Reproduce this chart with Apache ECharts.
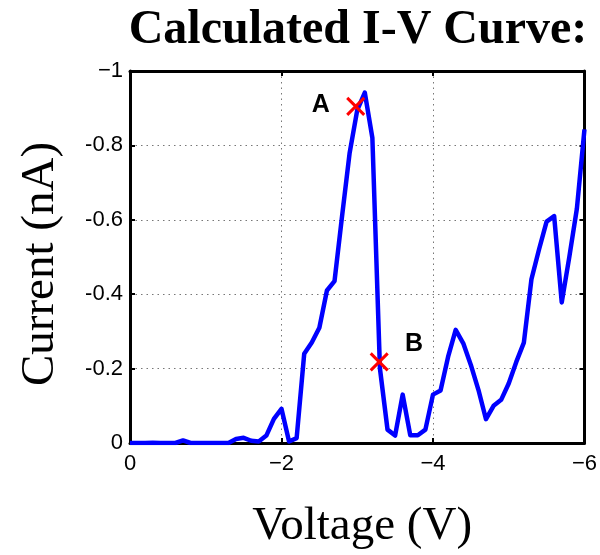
<!DOCTYPE html>
<html>
<head>
<meta charset="utf-8">
<script src="https://cdn.jsdelivr.net/npm/echarts@6/dist/echarts.min.js"></script>
<style>
  html, body { margin: 0; padding: 0; background: #fff; }
  #chart { width: 600px; height: 555px; }
</style>
</head>
<body>
<div id="chart"></div>
<script>
// voltage (V) and current (nA)
const voltage = [
    0, -0.1, -0.2, -0.3, -0.4, -0.5, -0.6, -0.7, -0.8, -0.9,
    -1.0, -1.1, -1.2, -1.3, -1.4, -1.5, -1.6, -1.7, -1.8, -1.9,
    -2.0, -2.1, -2.2, -2.3, -2.4, -2.5, -2.6, -2.7, -2.8, -2.9,
    -3.0, -3.1, -3.2, -3.3, -3.4, -3.5, -3.6, -3.7, -3.8, -3.9,
    -4.0, -4.1, -4.2, -4.3, -4.4, -4.5, -4.6, -4.7, -4.8, -4.9,
    -5.0, -5.1, -5.2, -5.3, -5.4, -5.5, -5.6, -5.7, -5.8, -5.9,
    -6.0
]
const current = [
    0, 0, 0, -0.001, 0, 0, 0, -0.007, 0, 0,
    0, 0, 0, 0, -0.011, -0.014, -0.006, -0.004, -0.02, -0.065,
    -0.092, -0.004, -0.013, -0.24, -0.27, -0.31, -0.41, -0.435, -0.61, -0.78,
    -0.895, -0.942, -0.82, -0.2, -0.036, -0.02, -0.13, -0.021, -0.021, -0.036,
    -0.13, -0.141, -0.232, -0.304, -0.268, -0.21, -0.143, -0.064, -0.1, -0.116,
    -0.16, -0.218, -0.27, -0.44, -0.52, -0.595, -0.61, -0.378, -0.5, -0.63,
    -0.843
]
// marked points and their letters
const markNames = ["A", "B"]
const markPoints = [[-2.98, -0.905], [-3.29, -0.218]]
const markLabelPos = [[-2.52, -0.907], [-3.75, -0.267]]

const serif = "Liberation Serif"
const sans = "Liberation Sans"

let chartDom = document.getElementById("chart")
let myChart = echarts.init(chartDom)

let axisLine = { show: true, onZero: false, lineStyle: { color: "#000", width: 3 } }
let tick = { show: true, inside: true, length: 5, lineStyle: { color: "#000", width: 2 } }
let grid = { show: true, lineStyle: { color: "#777", width: 1, type: [1.5, 4] } }

let option = {
    animation: false,
    title: {
        text: "Calculated I-V Curve:",
        left: 353,
        textAlign: "center",
        top: 2,
        textStyle: { fontFamily: serif, fontWeight: "bold", fontSize: 48, color: "#000" }
    },
    grid: { left: 130, right: 12, top: 71, bottom: 108 },
    xAxis: [
        {
            type: "value",
            min: -6, max: 0, interval: 2, inverse: true,
            name: "Voltage (V)",
            nameLocation: "middle",
            nameGap: 60,
            nameTextStyle: { fontFamily: serif, fontSize: 47, color: "#000", padding: [0, 0, 0, 10] },
            axisLine: axisLine,
            axisTick: tick,
            splitLine: grid,
            axisLabel: {
                margin: 10,
                fontFamily: sans, fontSize: 22, color: "#000",
                formatter: v => v === 0 ? "0" : "\u2212" + Math.abs(v)
            }
        },
        {
            type: "value", position: "top",
            min: -6, max: 0, interval: 2, inverse: true,
            axisLine: axisLine, axisTick: tick,
            axisLabel: { show: false }, splitLine: { show: false }
        }
    ],
    yAxis: [
        {
            type: "value",
            min: -1, max: 0, interval: 0.2, inverse: true,
            name: "Current (nA)",
            nameLocation: "middle",
            nameGap: 66,
            nameTextStyle: { fontFamily: serif, fontSize: 47, color: "#000", padding: [0, 14, 0, 0] },
            axisLine: axisLine,
            axisTick: tick,
            splitLine: grid,
            axisLabel: {
                margin: 7,
                fontFamily: sans, fontSize: 22, color: "#000",
                formatter: function (v) {
                    if (Math.abs(v) < 1e-9) return "0"
                    if (Math.abs(v + 1) < 1e-9) return "\u22121"
                    return v.toFixed(1)
                }
            }
        },
        {
            type: "value", position: "right",
            min: -1, max: 0, interval: 0.2, inverse: true,
            axisLine: axisLine, axisTick: tick,
            axisLabel: { show: false }, splitLine: { show: false }
        }
    ],
    series: [
        {
            type: "line",
            data: voltage.map((v, i) => [v, current[i]]),
            showSymbol: false,
            lineStyle: { color: "#0000ff", width: 4.5, join: "round" },
            z: 3
        },
        {
            type: "scatter",
            data: markPoints,
            symbol: "path://M0,0L10,10M10,0L0,10",
            symbolSize: 17,
            itemStyle: { color: "none", borderColor: "#ff0000", borderWidth: 3, opacity: 1 },
            z: 4
        },
        {
            type: "scatter",
            data: markLabelPos.map((p, i) => ({ value: p, name: markNames[i] })),
            symbolSize: 0,
            itemStyle: { opacity: 1 },
            label: {
                show: true,
                position: "inside",
                formatter: "{b}",
                fontFamily: sans, fontWeight: "bold", fontSize: 25, color: "#000"
            },
            z: 5
        }
    ]
}

option && myChart.setOption(option)
</script>
</body>
</html>
